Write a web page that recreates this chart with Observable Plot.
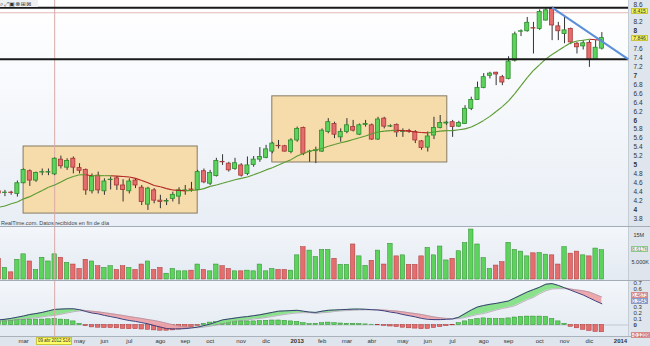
<!DOCTYPE html>
<html><head><meta charset="utf-8">
<script src="https://cdn.jsdelivr.net/npm/d3@7"></script>
<script src="https://cdn.jsdelivr.net/npm/@observablehq/plot@0.6"></script>
<style>
body{margin:0;background:#fff;}
#wrap{position:relative;width:650px;height:346px;overflow:hidden;font-family:"Liberation Sans",Arial,sans-serif;background:#e4eaf0;}
.fig{position:absolute;left:0;}
</style></head>
<body><div id="wrap"></div>
<script>
// ---- data (weekly, Monday of each week, from 2012-02-06 to 2013-12-16) ----
const firstWeek = "2012-02-06", lastWeek = "2013-12-16";
const open  = [4.41,4.37,4.38,4.35,4.59,4.86,4.65,4.83,4.83,4.79,5.12,4.94,5.14,4.93,4.89,4.41,4.76,4.41,4.66,4.70,4.54,4.41,4.65,4.49,4.11,4.43,4.20,4.18,4.24,4.29,4.42,4.45,4.44,4.86,4.58,4.75,5.07,5.03,4.91,4.99,4.80,5.00,5.12,5.16,5.30,5.43,5.42,5.29,5.55,5.83,5.29,5.31,5.30,5.74,5.92,5.62,5.74,5.85,5.68,5.90,5.89,5.57,6.04,5.86,5.90,5.74,5.76,5.74,5.53,5.39,5.66,5.83,5.93,5.96,5.86,5.92,6.26,6.46,6.73,7.00,7.07,6.97,6.93,7.34,7.99,8.00,8.07,8.05,8.24,8.50,8.11,7.94,8.05,7.72,7.66,7.74,7.36,7.61];
const high  = [4.45,4.43,4.41,4.64,4.91,4.89,4.84,4.91,4.91,5.16,5.20,5.14,5.18,5.03,4.91,4.80,4.84,4.69,4.73,4.74,4.67,4.69,4.69,4.54,4.50,4.47,4.32,4.24,4.39,4.49,4.54,4.61,4.88,4.91,4.88,5.15,5.23,5.06,5.15,5.03,5.18,5.19,5.39,5.44,5.51,5.55,5.44,5.59,5.85,5.85,5.33,5.40,5.81,6.04,5.96,5.81,6.04,6.00,5.92,6.00,5.92,6.07,6.07,5.90,5.92,5.81,5.80,5.77,5.55,5.74,6.07,6.11,5.98,6.00,5.98,6.33,6.52,6.86,7.05,7.08,7.08,7.01,7.43,7.98,8.03,8.31,8.20,8.48,8.53,8.54,8.20,8.32,8.07,7.75,7.79,7.79,7.79,7.97];
const low   = [4.29,4.29,4.32,4.28,4.58,4.52,4.61,4.76,4.76,4.76,4.91,4.88,4.80,4.80,4.32,4.35,4.35,4.32,4.44,4.43,4.17,4.35,4.47,4.09,3.98,4.13,4.02,4.09,4.17,4.11,4.32,4.39,4.43,4.58,4.54,4.73,4.99,4.84,4.88,4.73,4.76,4.95,5.06,5.14,5.25,5.36,5.29,5.25,5.51,5.21,5.06,5.03,5.28,5.70,5.59,5.51,5.70,5.74,5.66,5.85,5.55,5.55,5.81,5.84,5.62,5.62,5.71,5.48,5.33,5.29,5.57,5.81,5.89,5.62,5.84,5.91,6.22,6.45,6.71,6.93,6.78,6.78,6.91,7.31,7.88,7.98,7.49,8.02,8.23,7.79,7.79,7.72,7.70,7.49,7.58,7.19,7.36,7.58];
const close = [4.36,4.38,4.37,4.59,4.89,4.65,4.82,4.84,4.84,5.14,4.97,5.09,4.94,4.87,4.43,4.74,4.43,4.63,4.67,4.54,4.44,4.63,4.54,4.17,4.47,4.20,4.17,4.19,4.33,4.43,4.43,4.44,4.84,4.61,4.82,5.09,5.06,4.88,5.04,4.76,4.99,5.12,5.18,5.35,5.48,5.42,5.30,5.55,5.81,5.25,5.30,5.33,5.77,5.96,5.68,5.74,5.89,5.77,5.89,5.92,5.57,6.02,5.86,5.87,5.73,5.75,5.75,5.55,5.38,5.64,5.83,5.94,5.95,5.85,5.94,6.26,6.46,6.73,6.97,7.05,7.03,6.85,7.32,7.93,8.00,8.19,8.06,8.43,8.47,8.13,8.00,8.02,7.75,7.64,7.73,7.36,7.63,7.846];
const volumeM = [6.1,3.4,2.1,5.8,7.4,5.3,2.8,6.4,5.3,7.4,6.4,4.9,4.4,3.1,5.8,5.3,3.9,3.4,3.9,2.8,3.9,3.4,2.8,4.4,5.3,2.8,3.4,1.7,3.1,2.4,2.4,2.6,4.4,2.8,2.4,4.4,3.9,3.1,2.4,2.4,2.6,2.4,4.4,2.4,3.1,2.8,2.8,2.6,7.1,9.5,8.5,6.6,8.7,8.7,6.1,4.3,4.3,10.3,6.8,4.0,5.5,8.5,4.4,10.5,6.8,7.1,4.3,4.3,6.8,9.3,7.1,9.7,5.6,6.1,8.3,10.7,14.7,10.3,6.3,3.1,4.1,5.1,10.8,8.7,8.2,6.8,7.7,7.8,7.3,7.1,4.4,9.5,7.6,8.2,7.1,6.8,9.1,8.617];
const ma    = [4.05,4.08,4.13,4.17,4.24,4.29,4.36,4.43,4.50,4.55,4.62,4.69,4.74,4.78,4.78,4.76,4.76,4.76,4.76,4.75,4.74,4.73,4.70,4.65,4.60,4.54,4.51,4.47,4.44,4.43,4.42,4.43,4.44,4.47,4.52,4.55,4.59,4.63,4.67,4.70,4.73,4.78,4.83,4.89,4.94,5.00,5.06,5.12,5.20,5.26,5.31,5.34,5.37,5.42,5.46,5.50,5.53,5.57,5.61,5.65,5.70,5.74,5.76,5.77,5.78,5.77,5.76,5.74,5.73,5.72,5.74,5.76,5.77,5.77,5.79,5.81,5.85,5.92,6.00,6.09,6.20,6.31,6.44,6.60,6.78,6.96,7.12,7.25,7.38,7.48,7.57,7.66,7.74,7.78,7.80,7.82,7.81,7.80];
const macd  = [0.085,0.095,0.11,0.13,0.15,0.175,0.19,0.21,0.235,0.26,0.265,0.27,0.27,0.255,0.225,0.20,0.185,0.16,0.14,0.12,0.095,0.075,0.06,0.04,0.02,-0.01,-0.035,-0.06,-0.065,-0.065,-0.06,-0.05,-0.035,-0.01,0.015,0.05,0.085,0.10,0.115,0.13,0.14,0.155,0.17,0.19,0.21,0.23,0.235,0.24,0.245,0.23,0.215,0.21,0.23,0.245,0.25,0.255,0.26,0.265,0.265,0.262,0.255,0.25,0.235,0.215,0.20,0.175,0.155,0.135,0.11,0.095,0.09,0.09,0.095,0.10,0.13,0.19,0.25,0.30,0.325,0.345,0.36,0.38,0.40,0.45,0.50,0.55,0.59,0.63,0.68,0.69,0.66,0.62,0.58,0.54,0.50,0.45,0.40,0.3543];
const signal= [0.06,0.065,0.075,0.087,0.10,0.11,0.12,0.135,0.15,0.16,0.18,0.20,0.22,0.235,0.24,0.23,0.22,0.205,0.19,0.175,0.16,0.14,0.125,0.11,0.09,0.075,0.055,0.03,0.005,-0.02,-0.035,-0.042,-0.045,-0.035,-0.02,0.0,0.02,0.04,0.06,0.075,0.085,0.10,0.11,0.125,0.14,0.16,0.175,0.19,0.20,0.205,0.205,0.19,0.205,0.21,0.225,0.235,0.24,0.245,0.25,0.252,0.253,0.252,0.248,0.24,0.232,0.22,0.205,0.19,0.175,0.155,0.135,0.12,0.11,0.105,0.105,0.125,0.15,0.175,0.19,0.22,0.25,0.275,0.295,0.32,0.37,0.42,0.46,0.52,0.57,0.60,0.605,0.605,0.60,0.585,0.57,0.55,0.51,0.4673];
const hist  = [0.07,0.07,0.075,0.08,0.09,0.09,0.09,0.09,0.095,0.10,0.09,0.08,0.06,0.02,-0.02,-0.04,-0.045,-0.05,-0.05,-0.055,-0.065,-0.07,-0.07,-0.075,-0.08,-0.09,-0.095,-0.095,-0.09,-0.075,-0.06,-0.04,-0.015,0.02,0.04,0.05,0.06,0.065,0.065,0.06,0.06,0.06,0.065,0.07,0.075,0.075,0.07,0.06,0.05,0.03,0.015,0.02,0.03,0.04,0.03,0.025,0.02,0.02,0.015,0.01,0.005,-0.005,-0.015,-0.025,-0.035,-0.045,-0.055,-0.06,-0.07,-0.065,-0.05,-0.035,-0.02,-0.005,0.03,0.06,0.08,0.10,0.11,0.105,0.10,0.10,0.11,0.125,0.135,0.14,0.14,0.14,0.135,0.10,0.06,0.02,-0.03,-0.055,-0.08,-0.10,-0.115,-0.1209];

// tick labels (the ones hidden under the value boxes in the reference are left out)
const priceTicks = [3.8,4,4.2,4.4,4.6,4.8,5,5.2,5.4,5.6,5.8,6,6.2,6.4,6.6,6.8,7,7.2,7.4,7.6,8,8.2,8.6];
const macdTicks = [0,0.1,0.2,0.3,0.6,0.7];
const monthTickDates = ["2012-03-05","2012-05-07","2012-06-04","2012-07-02","2012-08-06","2012-09-03","2012-10-01","2012-11-05","2012-12-03","2013-01-07","2013-02-04","2013-03-04","2013-04-01","2013-05-06","2013-06-03","2013-07-01","2013-08-05","2013-09-02","2013-10-07","2013-11-04","2013-12-02","2014-01-06"];
const monthTickNames = ["mar","may","jun","jul","ago","sep","oct","nov","dic","2013","feb","mar","abr","may","jun","jul","ago","sep","oct","nov","dic","2014"];
const zones = [
  {start:"2012-03-05", end:"2012-09-17", top:5.415, bottom:3.91},
  {start:"2012-12-10", end:"2013-06-25", top:6.54, bottom:5.056}
];
const resistance = 8.53, support = 7.37;
const trendStart = {date:"2013-10-21", value:8.53}, trendEnd = {date:"2014-01-15", value:7.37};
const cursorDate = "2012-04-09", cursorPrice = 8.415, lastPrice = 7.846;
const lastVolumeLabel = "8.617K";
const xDomain = ["2012-02-08","2014-01-15"];

// ---- build ----
const D = s => new Date(s + "T00:00:00Z");
const weeks = d3.utcMonday.range(D(firstWeek), d3.utcDay.offset(D(lastWeek), 1));
const rows = weeks.map((d, i) => ({date: d, open: open[i], high: high[i], low: low[i], close: close[i],
  vol: volumeM[i] * 1e6, ma: ma[i], macd: macd[i], signal: signal[i], hist: hist[i], up: close[i] >= open[i]}));
const maSegs = d3.pairs(rows).map(([a, b]) => ({x1: a.date, y1: a.ma, x2: b.date, y2: b.ma, up: b.ma >= a.ma}));
const off = (d, h) => d3.utcHour.offset(d, h);
const xdom = xDomain.map(D);
const cur = D(cursorDate);

const GREEN = "#5dd35d", GREEN_S = "#2b8a2b", RED = "#e46e6e", RED_S = "#a83434";
const font = '"Liberation Sans", Arial, sans-serif';
const baseStyle = {background: "transparent", fontFamily: font, fontSize: "6.5px", color: "#333", overflow: "visible"};

const wrap = document.getElementById("wrap");
function addDiv(css, html) { const d = document.createElement("div"); d.style.cssText = css; if (html) d.innerHTML = html; wrap.appendChild(d); return d; }

// backgrounds
addDiv("position:absolute;left:0;top:0;width:628px;height:226px;background:linear-gradient(#ffffff 0%,#f7f9fc 40%,#e8eef5 100%);");
addDiv("position:absolute;left:0;top:227px;width:628px;height:53px;background:linear-gradient(#f3f6fa,#e3eaf2);");
addDiv("position:absolute;left:0;top:281px;width:628px;height:55px;background:linear-gradient(#f3f6fa,#e3eaf2);");
addDiv("position:absolute;left:628px;top:0;width:22px;height:346px;background:#dfe5ec;border-left:1px solid #c4ccd4;box-sizing:border-box;");
addDiv("position:absolute;left:0;top:336px;width:650px;height:10px;background:#dfe5ec;");
addDiv("position:absolute;left:0;top:225.5px;width:650px;height:1.5px;background:#a4adb7;");
addDiv("position:absolute;left:0;top:279.5px;width:650px;height:1.5px;background:#a4adb7;");
addDiv("position:absolute;left:0;top:335.5px;width:650px;height:1px;background:#aab3bc;");

// ---- price panel ----
const price = Plot.plot({
  width: 650, height: 226, marginTop: 0, marginBottom: 0, marginLeft: 0, marginRight: 22,
  style: baseStyle,
  x: {type: "utc", domain: xdom, axis: null, label: null},
  y: {domain: [3.62, 8.69], label: null},
  marks: [
    Plot.rect(zones, {x1: d => D(d.start), x2: d => D(d.end), y1: "bottom", y2: "top", fill: "#f6dcab", stroke: "#857a62", strokeWidth: 1}),
    Plot.ruleY([cursorPrice], {stroke: "#e4b8b8", strokeWidth: 1}),
    Plot.ruleX([cur], {stroke: "#d9a9a9", strokeWidth: 1}),
    Plot.ruleX(rows, {x: "date", y1: "low", y2: "high", stroke: "#333", strokeWidth: 1}),
    Plot.rect(rows, {x1: d => off(d.date, -55), x2: d => off(d.date, 55), y1: "open", y2: "close",
      fill: d => d.up ? GREEN : RED, stroke: d => d.up ? GREEN_S : RED_S, strokeWidth: 0.8}),
    Plot.link(maSegs, {x1: "x1", y1: "y1", x2: "x2", y2: "y2", stroke: d => d.up ? "#5a9a30" : "#b02424", strokeWidth: 1.1}),
    Plot.ruleY([resistance], {stroke: "#1a1a1a", strokeWidth: 2}),
    Plot.ruleY([support], {stroke: "#1a1a1a", strokeWidth: 2}),
    Plot.link([{}], {x1: () => D(trendStart.date), y1: () => trendStart.value, x2: () => D(trendEnd.date), y2: () => trendEnd.value, stroke: "#5b8fd9", strokeWidth: 2}),
    Plot.axisY({anchor: "right", label: null, ticks: priceTicks, tickSize: 0, tickPadding: 5, tickFormat: d => String(+d.toFixed(1)), fill: "#333"}),
    Plot.text(["RealTime.com. Datos recibidos en fin de día"], {frameAnchor: "bottom-left", dx: 0.5, dy: -2, fontSize: 5.5, fill: "#444", textAnchor: "start"})
  ]
});
price.classList.add("fig"); price.style.top = "0px";
wrap.appendChild(price);

// ---- volume panel ----
const vol = Plot.plot({
  width: 650, height: 53, marginTop: 0, marginBottom: 1, marginLeft: 0, marginRight: 22,
  style: {...baseStyle, fontSize: "5.5px"},
  x: {type: "utc", domain: xdom, axis: null, label: null},
  y: {domain: [0, 15.29e6], label: null},
  marks: [
    Plot.rect(rows, {x1: d => off(d.date, -60), x2: d => off(d.date, 60), y1: 0, y2: "vol",
      fill: d => d.up ? GREEN : RED, stroke: d => d.up ? GREEN_S : RED_S, strokeWidth: 0.5}),
    Plot.ruleX([cur], {stroke: "#d9a9a9", strokeWidth: 1}),
    Plot.axisY({anchor: "right", label: null, ticks: [5e6], tickSize: 0, tickPadding: 3, tickFormat: () => "5.000K", fill: "#333"}),
    Plot.text([15e6], {x: () => xdom[1], y: d => d, text: () => "15M", dx: 5, dy: 7, textAnchor: "start", fill: "#333", fontSize: 5.5})
  ]
});
vol.classList.add("fig"); vol.style.top = "227px";
wrap.appendChild(vol);

// ---- MACD panel + time axis ----
const mac = Plot.plot({
  width: 650, height: 65, marginTop: 0, marginBottom: 10, marginLeft: 0, marginRight: 22,
  style: {...baseStyle, fontSize: "6px"},
  x: {type: "utc", domain: xdom, label: null},
  y: {domain: [-0.1917, 0.725], label: null},
  marks: [
    Plot.ruleY([0], {stroke: "#b9c0c8", strokeWidth: 0.8}),
    Plot.rect(rows, {x1: d => off(d.date, -60), x2: d => off(d.date, 60), y1: 0, y2: "hist",
      fill: d => d.hist >= 0 ? GREEN : RED, stroke: d => d.hist >= 0 ? GREEN_S : RED_S, strokeWidth: 0.5}),
    Plot.areaY(rows, {x: "date", y1: "signal", y2: d => Math.max(d.macd, d.signal), fill: "#86e086", fillOpacity: 0.95}),
    Plot.areaY(rows, {x: "date", y1: "macd", y2: d => Math.max(d.macd, d.signal), fill: "#eca3aa", fillOpacity: 0.95}),
    Plot.lineY(rows, {x: "date", y: "signal", stroke: "#9a8a9a", strokeWidth: 0.6}),
    Plot.lineY(rows, {x: "date", y: "macd", stroke: "#3d3d7a", strokeWidth: 1}),
    Plot.ruleX([cur], {stroke: "#d9a9a9", strokeWidth: 1}),
    Plot.axisY({anchor: "right", label: null, ticks: macdTicks, tickSize: 0, tickPadding: 5, tickFormat: d => String(+d.toFixed(1)), fill: "#333"}),
    Plot.axisX({label: null, ticks: monthTickDates.map(D), tickSize: 0, tickPadding: 2.5, tickFormat: (d, i) => monthTickNames[i], fill: "#333", fontSize: 6})
  ]
});
mac.classList.add("fig"); mac.style.top = "281px";
wrap.appendChild(mac);

// bold integer / year labels
for (const svg of [price, vol, mac]) {
  d3.select(svg).selectAll("text").each(function() {
    const t = this.textContent;
    if (/^\d$/.test(t) || /^20\d\d$/.test(t)) this.setAttribute("font-weight", "bold");
  });
}

// value boxes positioned with the plots' scales
const py = price.scale("y"), vy = vol.scale("y"), my = mac.scale("y"), mx = mac.scale("x");
function box(center, text, bg, border, color, left, w) {
  addDiv(`position:absolute;left:${left}px;top:${center - 3}px;width:${w}px;height:6px;background:${bg};border:1px solid ${border};color:${color};font-size:5px;line-height:4.5px;text-align:center;box-sizing:border-box;font-family:${font};white-space:nowrap;overflow:hidden;`, text);
}
box(py.apply(cursorPrice) - 1.5, String(cursorPrice), "#f4f25a", "#c9c43a", "#333", 631, 17);
box(py.apply(lastPrice), String(lastPrice), "#f4f25a", "#c9c43a", "#333", 631, 17);
box(227 + vy.apply(volumeM[volumeM.length - 1] * 1e6) - 1, lastVolumeLabel, "#f2f8f2", "#8cc88c", "#6a8a6a", 631, 17);
box(281 + my.apply(signal[signal.length - 1]) - 1.5, String(signal[signal.length - 1]), "#fbeeee", "#d88a8a", "#b05050", 631, 17);
box(281 + my.apply(macd[macd.length - 1]) - 2, String(macd[macd.length - 1]), "#eef1fa", "#8a9ac8", "#50609a", 631, 17);
box(281 + my.apply(hist[hist.length - 1]) + 3.5, String(hist[hist.length - 1]), "#f8dede", "#d88a8a", "#b04040", 631, 19);
// crosshair date label
const cx = mx.apply(cur);
addDiv(`position:absolute;left:${cx - 18}px;top:337px;width:36px;height:8px;background:#ffff66;border:1px solid #c9c43a;color:#333;font-size:4.6px;line-height:6px;letter-spacing:-0.1px;text-align:center;box-sizing:border-box;font-family:${font};white-space:nowrap;`, "09 abr 2012 S16");
// toolbar icons
addDiv(`position:absolute;left:0;top:0;width:38px;height:7px;background:#eef1f4;font-size:6px;line-height:7px;color:#333;letter-spacing:0.5px;font-family:"DejaVu Sans",sans-serif;white-space:nowrap;overflow:hidden;`, "⌕⤢▣⊗⊞⊠");
</script></body></html>
